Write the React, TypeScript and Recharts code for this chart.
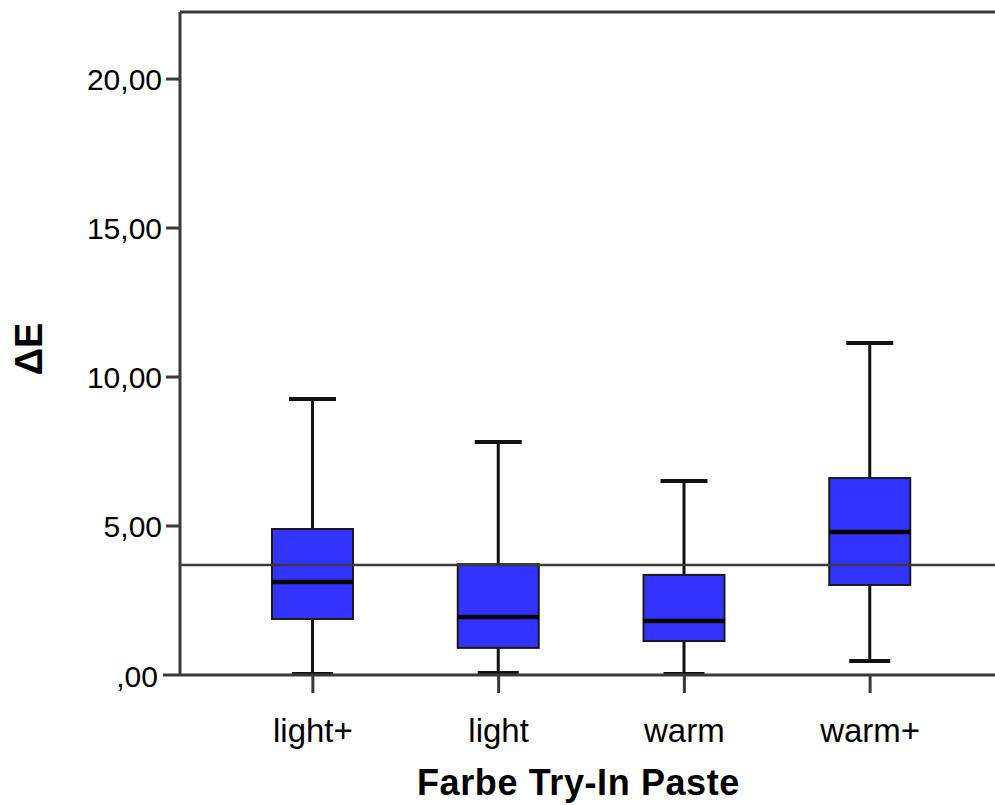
import React from 'react';
import { ComposedChart, Bar, XAxis, YAxis, ReferenceLine } from 'recharts';

const categories = ['light+', 'light', 'warm', 'warm+'];
const whiskerLow = [0.03, 0.07, 0.03, 0.47];
const quartile1 = [1.88, 0.91, 1.14, 3.02];
const medians = [3.12, 1.95, 1.81, 4.8];
const quartile3 = [4.9, 3.72, 3.36, 6.61];
const whiskerHigh = [9.26, 7.82, 6.51, 11.14];
const referenceValue = 3.69;
const yTicks = [0, 5, 10, 15, 20];
const yTickLabels = [',00', '5,00', '10,00', '15,00', '20,00'];
const yDomainMax = 22.25;
const xTitle = 'Farbe Try-In Paste';
const yTitle = 'ΔE';

const data = categories.map((name, i) => ({
  name,
  range: [whiskerLow[i], whiskerHigh[i]],
  lo: whiskerLow[i],
  q1: quartile1[i],
  med: medians[i],
  q3: quartile3[i],
  hi: whiskerHigh[i],
}));

const FONT = '"Liberation Sans", Arial, Helvetica, sans-serif';
const AXIS = '#3a3a3a';
const BOX_FILL = '#3333FF';

const BoxShape = (props: any) => {
  const { x, y, width, height, payload } = props;
  if (!payload || width == null) return null;
  const top = Math.min(y, y + height);
  const bottom = Math.max(y, y + height);
  const span = payload.hi - payload.lo;
  const ppu = span > 0 ? (bottom - top) / span : 0;
  const py = (v: number) => top + (payload.hi - v) * ppu;
  const cx = x + width / 2;
  const yQ1 = py(payload.q1);
  const yQ3 = py(payload.q3);
  const yMed = py(payload.med);
  const topCap = 47;
  const botCap = 41;
  return (
    <g>
      <line x1={cx} x2={cx} y1={top} y2={yQ3} stroke="#111" strokeWidth={3} />
      <line x1={cx} x2={cx} y1={yQ1} y2={bottom} stroke="#111" strokeWidth={3} />
      <line x1={cx - topCap / 2} x2={cx + topCap / 2} y1={top} y2={top} stroke="#111" strokeWidth={4} />
      <line x1={cx - botCap / 2} x2={cx + botCap / 2} y1={bottom} y2={bottom} stroke="#111" strokeWidth={4} />
      <rect x={x} y={yQ3} width={width} height={yQ1 - yQ3} fill={BOX_FILL} stroke="#1a1a1a" strokeWidth={2} />
      <line x1={x} x2={x + width} y1={yMed} y2={yMed} stroke="#000" strokeWidth={4.5} />
    </g>
  );
};

const YTick = (props: any) => {
  const { x, y, payload } = props;
  const idx = yTicks.indexOf(payload.value);
  const label = idx >= 0 ? yTickLabels[idx] : String(payload.value);
  const isZero = payload.value === 0;
  const labelRight = isZero ? x - 22 : x - 18;
  const lineStart = isZero ? x - 17 : x - 14;
  return (
    <g>
      <line x1={lineStart} x2={x} y1={y} y2={y} stroke={AXIS} strokeWidth={3} />
      <text
        x={labelRight}
        y={y}
        dy={isZero ? 12 : 11}
        textAnchor="end"
        fontFamily={FONT}
        fontSize={30}
        fill="#000"
      >
        {label}
      </text>
    </g>
  );
};

const XTick = (props: any) => {
  const { x, y, payload } = props;
  return (
    <text
      x={x}
      y={y}
      dy={49}
      textAnchor="middle"
      fontFamily={FONT}
      fontSize={33}
      fill="#000"
    >
      {payload.value}
    </text>
  );
};

const XTitle = (props: any) => {
  const vb = props.viewBox || { x: 180, y: 675, width: 823, height: 130 };
  return (
    <text
      x={vb.x + vb.width / 2 - 13}
      y={vb.y + 120}
      textAnchor="middle"
      fontFamily={FONT}
      fontWeight="bold"
      fontSize={36}
      letterSpacing={0.6}
      fill="#000"
    >
      {xTitle}
    </text>
  );
};

const YTitle = (props: any) => {
  const vb = props.viewBox || { x: 0, y: 12, width: 180, height: 663 };
  const cx = vb.x + 29;
  const cy = vb.y + 337;
  return (
    <text
      x={cx}
      y={cy}
      transform={`rotate(-90, ${cx}, ${cy})`}
      textAnchor="middle"
      dominantBaseline="central"
      fontFamily={FONT}
      fontWeight="bold"
      fontSize={38}
      fill="#000"
    >
      {yTitle}
    </text>
  );
};

export default function App() {
  return (
    <div
      style={{
        position: 'absolute',
        left: 0,
        top: 0,
        width: 995,
        height: 805,
        overflow: 'hidden',
        background: '#fff',
      }}
    >
      <ComposedChart
        width={1003}
        height={805}
        data={data}
        margin={{ top: 12, right: 0, bottom: 0, left: 0 }}
      >
        <XAxis
          dataKey="name"
          type="category"
          padding={{ left: 40, right: 40 }}
          height={130}
          tickSize={18}
          tickMargin={0}
          tickLine={{ stroke: AXIS, strokeWidth: 3 }}
          axisLine={{ stroke: AXIS, strokeWidth: 3 }}
          tick={<XTick />}
          interval={0}
          label={<XTitle />}
        />
        <YAxis
          type="number"
          width={180}
          domain={[0, yDomainMax]}
          ticks={yTicks}
          tickSize={0}
          tickMargin={0}
          tickLine={false}
          axisLine={{ stroke: AXIS, strokeWidth: 3 }}
          tick={<YTick />}
          allowDataOverflow
          label={<YTitle />}
        />
        <Bar
          dataKey="range"
          barSize={81}
          shape={<BoxShape />}
          isAnimationActive={false}
        />
        <ReferenceLine y={yDomainMax} stroke={AXIS} strokeWidth={3} />
        <ReferenceLine y={referenceValue} stroke={AXIS} strokeWidth={2.5} />
      </ComposedChart>
    </div>
  );
}
